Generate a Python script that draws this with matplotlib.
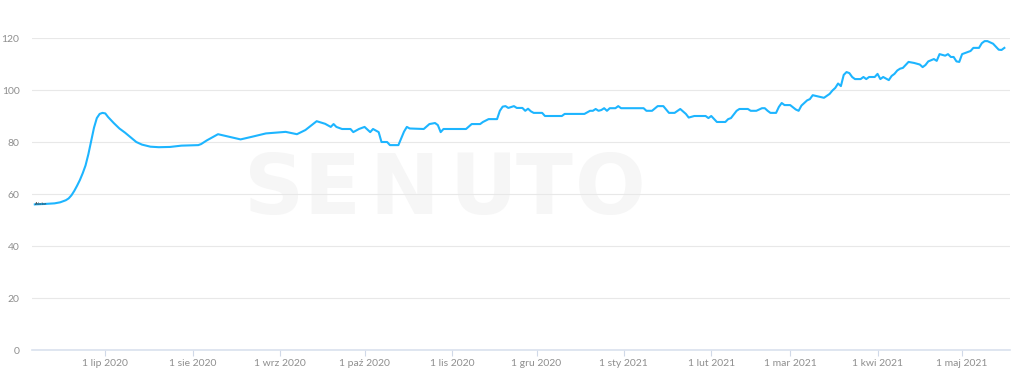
import numpy as np
import matplotlib
matplotlib.use("Agg")
from matplotlib import pyplot as plt

# visibility series
dates = [
    "2020-06-06", "2020-06-10", "2020-06-13", "2020-06-15", "2020-06-17", "2020-06-18",
    "2020-06-19", "2020-06-20", "2020-06-21", "2020-06-22", "2020-06-23", "2020-06-24",
    "2020-06-25", "2020-06-26", "2020-06-27", "2020-06-28", "2020-06-29", "2020-06-30",
    "2020-07-01", "2020-07-02", "2020-07-04", "2020-07-06", "2020-07-08", "2020-07-10",
    "2020-07-12", "2020-07-14", "2020-07-17", "2020-07-20", "2020-07-24", "2020-07-28",
    "2020-08-03", "2020-08-04", "2020-08-06", "2020-08-10", "2020-08-14", "2020-08-18",
    "2020-08-22", "2020-08-27", "2020-09-03", "2020-09-07", "2020-09-10", "2020-09-14",
    "2020-09-17", "2020-09-19", "2020-09-20", "2020-09-21", "2020-09-23", "2020-09-26",
    "2020-09-27", "2020-09-29", "2020-10-01", "2020-10-03", "2020-10-04", "2020-10-06",
    "2020-10-07", "2020-10-09", "2020-10-10", "2020-10-13", "2020-10-15", "2020-10-16",
    "2020-10-17", "2020-10-22", "2020-10-24", "2020-10-26", "2020-10-27", "2020-10-28",
    "2020-10-29", "2020-11-06", "2020-11-08", "2020-11-11", "2020-11-12", "2020-11-14",
    "2020-11-17", "2020-11-18", "2020-11-19", "2020-11-20", "2020-11-21", "2020-11-23",
    "2020-11-24", "2020-11-26", "2020-11-27", "2020-11-28", "2020-11-29", "2020-11-30",
    "2020-12-03", "2020-12-04", "2020-12-10", "2020-12-11", "2020-12-18", "2020-12-20",
    "2020-12-21", "2020-12-22", "2020-12-23", "2020-12-24", "2020-12-25", "2020-12-26",
    "2020-12-27", "2020-12-29", "2020-12-30", "2020-12-31", "2021-01-08", "2021-01-09",
    "2021-01-11", "2021-01-13", "2021-01-15", "2021-01-17", "2021-01-19", "2021-01-21",
    "2021-01-23", "2021-01-24", "2021-01-26", "2021-01-30", "2021-01-31", "2021-02-01",
    "2021-02-03", "2021-02-06", "2021-02-07", "2021-02-08", "2021-02-10", "2021-02-11",
    "2021-02-14", "2021-02-15", "2021-02-17", "2021-02-19", "2021-02-20", "2021-02-21",
    "2021-02-22", "2021-02-24", "2021-02-25", "2021-02-26", "2021-02-27", "2021-03-01",
    "2021-03-03", "2021-03-04", "2021-03-05", "2021-03-06", "2021-03-07", "2021-03-08",
    "2021-03-09", "2021-03-13", "2021-03-15", "2021-03-16", "2021-03-17", "2021-03-18",
    "2021-03-19", "2021-03-20", "2021-03-21", "2021-03-22", "2021-03-23", "2021-03-24",
    "2021-03-26", "2021-03-27", "2021-03-28", "2021-03-29", "2021-03-31", "2021-04-01",
    "2021-04-02", "2021-04-03", "2021-04-05", "2021-04-06", "2021-04-07", "2021-04-08",
    "2021-04-09", "2021-04-10", "2021-04-12", "2021-04-14", "2021-04-16", "2021-04-17",
    "2021-04-18", "2021-04-19", "2021-04-21", "2021-04-22", "2021-04-23", "2021-04-25",
    "2021-04-26", "2021-04-27", "2021-04-28", "2021-04-29", "2021-04-30", "2021-05-01",
    "2021-05-03", "2021-05-04", "2021-05-05", "2021-05-07", "2021-05-08", "2021-05-09",
    "2021-05-10", "2021-05-12", "2021-05-14", "2021-05-15", "2021-05-16",
]
values = [
    56.0, 56.2, 56.4, 56.8, 57.6, 58.3,
    59.5, 61.2, 63.2, 65.4, 68.0, 71.0,
    75.3, 80.5, 85.5, 89.2, 90.8, 91.2,
    91.0, 89.6, 87.3, 85.2, 83.6, 81.8,
    80.0, 79.0, 78.2, 78.0, 78.1, 78.6,
    78.8, 79.2, 80.6, 83.0, 82.0, 81.0,
    82.0, 83.3, 83.9, 83.0, 84.6, 88.0,
    87.0, 85.8, 86.9, 85.8, 85.0, 85.0,
    83.8, 85.0, 85.8, 83.8, 85.0, 83.8,
    80.0, 80.0, 78.8, 78.8, 84.0, 85.8,
    85.2, 85.0, 86.9, 87.3, 86.5, 83.8,
    85.0, 85.0, 86.9, 86.9, 87.7, 88.8,
    88.8, 92.0, 93.6, 93.8, 93.1, 93.8,
    93.1, 93.1, 92.0, 92.8, 91.8, 91.2,
    91.2, 90.0, 90.0, 90.8, 90.8, 92.0,
    92.0, 92.7, 92.0, 92.3, 93.0, 92.0,
    93.0, 93.0, 93.8, 93.0, 93.0, 92.0,
    92.0, 93.8, 93.8, 91.2, 91.2, 92.7,
    90.8, 89.4, 90.0, 90.0, 89.2, 90.0,
    87.7, 87.7, 88.8, 89.2, 92.0, 92.7,
    92.7, 92.0, 92.0, 93.0, 93.0, 92.0,
    91.2, 91.2, 93.5, 95.0, 94.2, 94.2,
    92.5, 92.0, 94.0, 95.0, 96.0, 96.5,
    98.0, 97.0, 98.5, 99.8, 100.8, 102.5,
    101.5, 105.8, 106.9, 106.5, 105.0, 104.2,
    104.2, 105.0, 104.2, 105.0, 105.0, 106.2,
    104.2, 105.0, 103.8, 105.4, 106.2, 107.5,
    108.2, 108.5, 110.8, 110.4, 109.8, 108.8,
    109.6, 111.0, 111.9, 111.2, 113.8, 113.2,
    113.8, 112.7, 112.7, 111.0, 110.8, 113.8,
    114.6, 115.0, 116.2, 116.2, 118.0, 118.8,
    118.8, 117.8, 115.5, 115.4, 116.2,
]

tick_dates = ["2020-07-01", "2020-08-01", "2020-09-01", "2020-10-01", "2020-11-01", "2020-12-01",
              "2021-01-01", "2021-02-01", "2021-03-01", "2021-04-01", "2021-05-01"]
tick_labels = ["1 lip 2020", "1 sie 2020", "1 wrz 2020", "1 paź 2020", "1 lis 2020", "1 gru 2020",
               "1 sty 2021", "1 lut 2021", "1 mar 2021", "1 kwi 2021", "1 maj 2021"]
y_ticks = [0, 20, 40, 60, 80, 100, 120]

LINE = "#1db5ff"
LABEL = "#8f8f8f"

x = np.array(dates, dtype="datetime64[D]")
y = np.array(values)

fig = plt.figure(figsize=(10.24, 3.84), dpi=100)
ax = fig.add_axes([32 / 1024, 34 / 384, 978 / 1024, 312 / 384])

# watermark
for letter, fx in zip("SENUTO", [0.248, 0.307, 0.381, 0.461, 0.524, 0.591]):
    ax.text(fx, 0.51, letter, transform=ax.transAxes, fontsize=60, fontweight="bold",
            color="#f6f6f6", ha="center", va="center", family="DejaVu Sans", zorder=0)

ax.plot(x, y, color=LINE, linewidth=1.5, solid_joinstyle="round", zorder=3)
ax.text(x[0], y[0], "Adobe", fontsize=2.8, color="#333333", va="center", ha="left", zorder=4)

ax.set_ylim(0, 120)
ax.set_xlim(np.datetime64("2020-06-05"), np.datetime64("2021-05-18"))
ax.set_yticks(y_ticks)
ax.set_xticks(np.array(tick_dates, dtype="datetime64[D]"))
ax.set_xticklabels(tick_labels)
ax.grid(axis="y", color="#e8e8e8", linewidth=0.8)
ax.set_axisbelow(True)

for side in ["top", "right", "left"]:
    ax.spines[side].set_visible(False)
ax.spines["bottom"].set_color("#d9e1ee")
ax.spines["bottom"].set_linewidth(1.2)

ax.tick_params(axis="y", length=0, pad=9, labelsize=7.5, labelcolor=LABEL)
ax.tick_params(axis="x", length=4, width=0.8, color="#d0d9e8", pad=2.5, labelsize=7.5, labelcolor=LABEL)
for lbl in ax.get_xticklabels() + ax.get_yticklabels():
    lbl.set_family("Lato")

fig.savefig("out.png", dpi=100, facecolor="white")
